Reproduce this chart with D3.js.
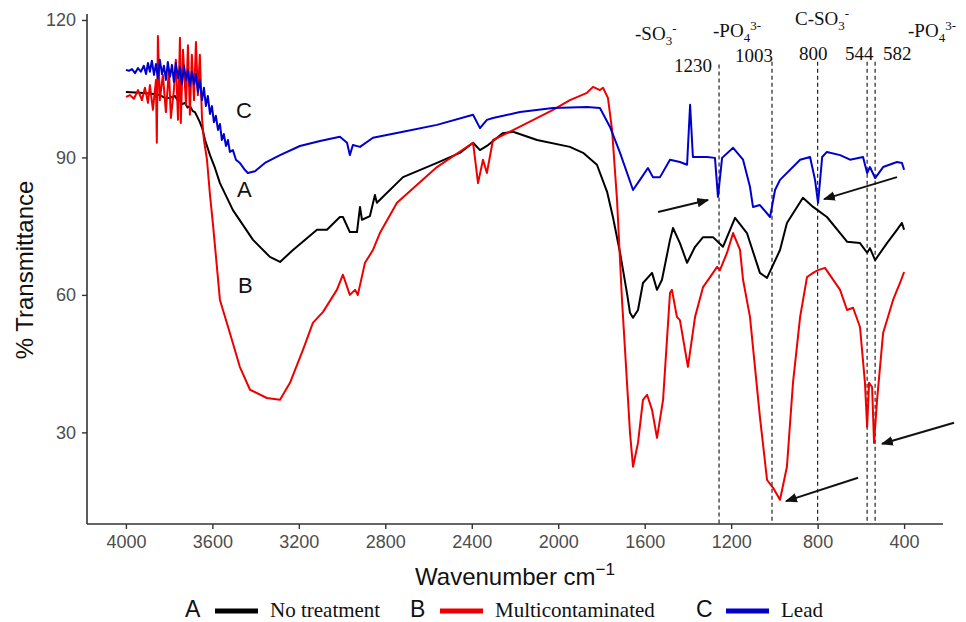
<!DOCTYPE html>
<html><head><meta charset="utf-8">
<script src="https://cdn.jsdelivr.net/npm/d3@7"></script>
<style>body{margin:0;background:#fff}svg{display:block}</style>
</head><body>
<svg id="c" width="966" height="622"></svg>
<script>
// ---- data (wavenumber cm-1, % transmittance) ----
const seriesNames = ["No treatment", "Multicontaminated", "Lead"];
const seriesKeys = ["A", "B", "C"];
const seriesColors = ["#000000", "#ee0000", "#0000cc"];

const noTreatment = [
[4000,104.3],[3935,104.1],[3880,103.9],[3843,103.6],[3815,102.9],[3796,103.0],[3773,103.4],[3760,102.4],[3750,102.5],[3741,101.6],[3727,101.9],[3715,100.9],[3704,101.2],[3690,100.1],[3681,99.9],[3670,98.9],[3658,97.7],[3646,96.2],[3634,93.8],[3611,90.5],[3588,87.7],[3565,84.4],[3505,78.5],[3412,72.0],[3334,68.3],[3287,67.2],[3227,69.8],[3116,74.2],[3070,74.2],[3010,77.0],[2996,77.0],[2964,73.7],[2931,73.7],[2917,79.2],[2908,76.4],[2871,77.2],[2848,81.8],[2839,80.1],[2718,85.7],[2561,88.8],[2455,91.0],[2394,93.2],[2362,91.6],[2330,92.5],[2256,95.3],[2209,95.6],[2098,93.8],[1946,92.3],[1885,91.0],[1821,88.4],[1774,82.5],[1747,77.0],[1714,69.2],[1682,60.4],[1668,56.1],[1654,55.0],[1631,56.7],[1608,62.6],[1566,64.8],[1543,61.1],[1520,63.3],[1483,72.0],[1469,74.6],[1437,71.3],[1404,67.0],[1367,70.5],[1330,72.6],[1284,72.6],[1238,70.5],[1182,76.8],[1127,73.5],[1067,64.8],[1034,63.7],[974,69.8],[942,75.7],[868,81.2],[821,79.2],[757,77.0],[696,73.5],[664,71.6],[604,71.3],[571,69.2],[558,70.2],[534,67.6],[479,71.3],[433,74.2],[410,75.7],[400,74.2]
];

const multicontaminated = [
[4000,103.2],[3981,103.6],[3963,102.8],[3944,104.7],[3926,102.5],[3912,105.2],[3898,101.9],[3889,105.8],[3875,100.4],[3861,106.9],[3857,93.2],[3852,116.5],[3843,102.5],[3829,108.0],[3815,99.9],[3801,109.1],[3792,98.6],[3778,104.7],[3769,111.3],[3759,98.2],[3750,116.1],[3746,97.5],[3736,113.5],[3722,101.5],[3713,114.5],[3704,99.3],[3695,112.4],[3685,102.5],[3676,115.2],[3667,103.6],[3658,112.4],[3648,98.6],[3639,93.8],[3625,89.5],[3611,81.8],[3597,75.3],[3565,58.9],[3519,51.7],[3473,44.3],[3426,39.3],[3348,37.5],[3287,37.1],[3241,40.8],[3181,48.0],[3135,53.9],[3088,56.3],[3024,61.1],[2996,64.4],[2964,60.0],[2940,61.1],[2927,60.0],[2894,67.0],[2857,69.8],[2825,73.5],[2746,80.1],[2640,84.6],[2561,87.9],[2394,93.2],[2371,84.4],[2348,89.5],[2330,86.6],[2302,93.8],[2177,96.7],[2024,100.4],[1946,102.5],[1867,104.1],[1839,105.4],[1807,104.7],[1793,105.2],[1770,103.0],[1751,96.0],[1728,80.7],[1705,58.9],[1691,48.0],[1668,29.9],[1654,22.5],[1631,27.7],[1608,37.1],[1589,38.2],[1566,34.9],[1543,28.8],[1515,37.1],[1483,60.4],[1474,61.1],[1451,55.2],[1437,54.5],[1400,44.3],[1367,55.2],[1330,61.7],[1284,64.8],[1265,66.1],[1252,65.4],[1219,69.2],[1191,73.5],[1159,69.8],[1145,63.3],[1113,55.2],[1067,33.4],[1034,19.6],[1006,17.9],[974,15.3],[942,22.5],[914,40.8],[881,55.2],[849,63.9],[821,64.8],[798,65.4],[766,65.9],[696,61.1],[664,56.7],[636,57.2],[604,53.0],[581,40.8],[571,31.2],[562,40.8],[548,39.9],[539,27.7],[525,37.1],[497,51.7],[451,58.9],[419,62.6],[400,65.0]
];

const lead = [
[4000,109.1],[3986,108.9],[3972,109.3],[3958,108.4],[3944,109.5],[3931,108.7],[3917,110.0],[3907,108.2],[3898,110.6],[3889,108.7],[3880,111.1],[3870,108.0],[3861,110.4],[3852,107.3],[3843,111.3],[3833,108.2],[3824,110.0],[3815,106.9],[3806,110.8],[3796,107.6],[3787,110.2],[3778,106.5],[3769,110.6],[3759,107.3],[3750,109.7],[3741,106.0],[3731,110.0],[3722,106.9],[3713,109.1],[3704,105.6],[3695,108.7],[3685,106.0],[3676,108.2],[3667,104.3],[3658,106.9],[3648,102.5],[3639,105.2],[3630,101.2],[3621,103.4],[3611,99.5],[3602,101.2],[3593,97.7],[3584,99.1],[3574,96.0],[3565,97.3],[3556,93.8],[3547,95.1],[3537,92.5],[3528,93.8],[3519,91.2],[3505,91.6],[3491,89.5],[3473,88.8],[3450,87.3],[3436,86.6],[3403,87.0],[3357,88.8],[3287,90.5],[3195,92.5],[3102,93.6],[3010,94.5],[2977,93.2],[2964,90.5],[2950,92.7],[2917,92.3],[2857,94.3],[2718,95.6],[2561,97.1],[2394,99.3],[2362,96.4],[2330,98.2],[2302,98.6],[2177,99.9],[2024,100.8],[1867,101.0],[1807,100.8],[1761,96.7],[1714,91.0],[1654,82.9],[1622,85.1],[1585,87.7],[1562,85.7],[1529,85.7],[1483,89.5],[1437,89.0],[1404,88.4],[1390,101.5],[1377,90.1],[1312,90.1],[1275,89.9],[1261,81.4],[1242,89.9],[1191,92.1],[1145,89.5],[1113,83.6],[1099,79.2],[1067,79.6],[1020,77.0],[997,82.9],[974,85.1],[881,89.5],[835,90.1],[812,85.1],[798,80.1],[779,90.1],[757,91.2],[696,90.5],[650,89.5],[590,90.1],[571,86.6],[558,87.9],[534,85.5],[497,87.9],[433,89.0],[410,88.8],[400,87.3]
];

const xTicks = [4000, 3600, 3200, 2800, 2400, 2000, 1600, 1200, 800, 400];
const yTicks = [30, 60, 90, 120];

// marker lines (position in cm-1) and their printed labels
const markerPositions = [1256, 1011, 800, 571, 534];
const markerLabels = ["1230", "1003", "800", "544", "582"];

// arrows [fromWn, fromT, toWn, toT]
const arrows = [
  [1538, 78.1, 1307, 80.7],
  [433, 85.7, 770, 80.9],
  [613, 20.1, 946, 15.0],
  [169, 32.1, 502, 27.5]
];

// ---- layout ----
const svg = d3.select("#c");
const L = 87, R = 943, T = 14, B = 524;
const x = d3.scaleLinear().domain([4180, 220]).range([L, R]);
const y = d3.scaleLinear().domain([10, 121.3]).range([B, T]);

const sans = "'Liberation Sans', Arial, sans-serif";
const serif = "'Liberation Serif', 'Times New Roman', serif";

// axes
const xAxis = d3.axisBottom(x).tickValues(xTicks).tickSize(5).tickPadding(6).tickFormat(d3.format("d"));
const yAxis = d3.axisLeft(y).tickValues(yTicks).tickSize(5).tickPadding(6);
const gx = svg.append("g").attr("transform", `translate(0,${B})`).call(xAxis);
const gy = svg.append("g").attr("transform", `translate(${L},0)`).call(yAxis);
[gx, gy].forEach(g => {
  g.select(".domain").attr("stroke", "#333").attr("stroke-width", 1.6);
  g.selectAll(".tick line").attr("stroke", "#333").attr("stroke-width", 1.4);
  g.selectAll(".tick text").attr("fill", "#4d4d4d").style("font-family", sans).style("font-size", "18px");
});
gx.select(".domain").attr("d", `M${L},0H${R}`);
gy.select(".domain").attr("d", `M0,${T}V${B}`);

// marker dashed lines
svg.append("g").selectAll("line").data(markerPositions).join("line")
  .attr("x1", d => x(d)).attr("x2", d => x(d))
  .attr("y1", (d, i) => i === 0 ? y(110.3) : y(110.9)).attr("y2", B)
  .attr("stroke", "#222").attr("stroke-width", 1.2).attr("stroke-dasharray", "4,3");

// curves
const line = d3.line().x(d => x(d[0])).y(d => y(d[1]));
const seriesData = [noTreatment, multicontaminated, lead];
svg.append("g").selectAll("path").data(seriesData).join("path")
  .attr("d", line).attr("fill", "none")
  .attr("stroke", (d, i) => seriesColors[i]).attr("stroke-width", 2)
  .attr("stroke-linejoin", "round");

// arrows
svg.append("defs").append("marker").attr("id", "ah")
  .attr("viewBox", "0 0 10 10").attr("refX", 9).attr("refY", 5)
  .attr("markerWidth", 6).attr("markerHeight", 6).attr("orient", "auto")
  .append("path").attr("d", "M0,1 L10,5 L0,9 Z").attr("fill", "#111");
svg.append("g").selectAll("line").data(arrows).join("line")
  .attr("x1", d => x(d[0])).attr("y1", d => y(d[1]))
  .attr("x2", d => x(d[2])).attr("y2", d => y(d[3]))
  .attr("stroke", "#111").attr("stroke-width", 2).attr("marker-end", "url(#ah)");

// marker number labels
const numPos = [[712, 72, "end"], [735, 62, "start"], [799, 60, "start"], [845, 60, "start"], [883, 60, "start"]];
svg.append("g").selectAll("text").data(markerLabels).join("text")
  .attr("x", (d, i) => numPos[i][0]).attr("y", (d, i) => numPos[i][1])
  .attr("text-anchor", (d, i) => numPos[i][2])
  .style("font-family", serif).style("font-size", "19px").attr("fill", "#111").text(d => d);

// ion labels
function ion(xp, yp, base, sub, sup) {
  const t = svg.append("text").attr("x", xp).attr("y", yp)
    .style("font-family", serif).style("font-size", "19px").attr("fill", "#111");
  t.append("tspan").text(base);
  t.append("tspan").attr("dy", 5).style("font-size", "13px").text(sub);
  t.append("tspan").attr("dy", -12).style("font-size", "13px").text(sup);
}
ion(635, 40, "-SO", "3", "-");
ion(713, 37, "-PO", "4", "3-");
ion(795, 25, "C-SO", "3", "-");
ion(908, 37, "-PO", "4", "3-");

// in-plot series letters
const letterPos = [[237, 197], [238, 293], [236, 118]];
svg.append("g").selectAll("text").data(seriesKeys).join("text")
  .attr("x", (d, i) => letterPos[i][0]).attr("y", (d, i) => letterPos[i][1])
  .style("font-family", sans).style("font-size", "22px").attr("fill", "#111").text(d => d);

// axis titles
const xt = svg.append("text").attr("x", 515).attr("y", 585).attr("text-anchor", "middle")
  .style("font-family", sans).style("font-size", "24px").attr("fill", "#111");
xt.append("tspan").text("Wavenumber cm");
xt.append("tspan").attr("dy", -10).style("font-size", "17px").text("\u22121");
svg.append("text").attr("transform", "translate(33,270) rotate(-90)").attr("text-anchor", "middle")
  .style("font-family", sans).style("font-size", "24px").attr("fill", "#111").text("% Transmittance");

// legend
const legX = [185, 410, 696];
const lg = svg.append("g").selectAll("g").data(seriesNames).join("g")
  .attr("transform", (d, i) => `translate(${legX[i]},617)`);
lg.append("text").style("font-family", sans).style("font-size", "23px").attr("fill", "#111")
  .text((d, i) => seriesKeys[i]);
lg.append("line").attr("x1", 30).attr("x2", 73).attr("y1", -6).attr("y2", -6)
  .attr("stroke", (d, i) => seriesColors[i]).attr("stroke-width", 5);
lg.append("text").attr("x", 85).style("font-family", serif).style("font-size", "21px").attr("fill", "#111")
  .text(d => d);
</script>
</body></html>
